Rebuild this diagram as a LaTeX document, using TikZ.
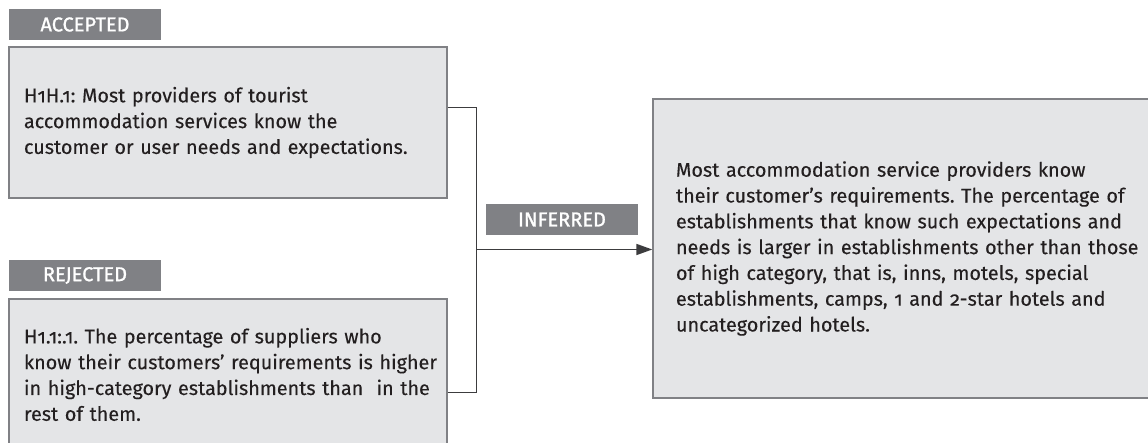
\documentclass[tikz,border=0pt]{standalone}
\usepackage{fontspec}
\setmainfont[Numbers=OldStyle, FakeBold=0.25]{Fira Sans}
\newfontfamily\tagfont[Numbers=OldStyle, FakeBold=1.2]{Fira Sans}
\usepackage{tikz}
\usetikzlibrary{
    arrows.meta,
    positioning,
    calc
}
\definecolor{boxFill}{RGB}{228,229,231}
\definecolor{boxLine}{RGB}{128,129,133}
\definecolor{tagFill}{RGB}{128,129,133}
\definecolor{connLine}{RGB}{60,60,62}
\definecolor{bodyText}{RGB}{35,31,32}
\tikzset{
  hypbox/.style  = {draw=boxLine, fill=boxFill, line width=1.4pt,
                    minimum width=438pt, minimum height=151pt,
                    text width=408pt, inner xsep=15pt, align=left,
                    text=bodyText,
                    font=\fontsize{19.8}{25.8}\selectfont\frenchspacing},
  concbox/.style = {hypbox, minimum width=517pt, minimum height=299pt,
                    text width=471pt, inner xsep=23pt},
  tagbox/.style  = {fill=tagFill, text=white, minimum width=152pt,
                    minimum height=31pt, inner sep=0pt,
                    font=\tagfont\fontsize{20}{22}\selectfont},
  conn/.style    = {connLine, line width=1.7pt},
  arr/.style     = {conn, -{Triangle[length=16pt, width=11pt]}}
}

\begin{document}
\begin{tikzpicture}[x=1pt, y=1pt]
\useasboundingbox (0,0) rectangle (1148,443);
\clip (0,0) rectangle (1148,443);

% hypotheses
\node[tagbox] (tagA) at (85,418.5) {ACCEPTED};
\node[hypbox] (hypA) at (228,320.5)
    {H1H.1: Most providers of tourist\\
     accommodation services know the\\
     customer or user needs and expectations.};
\node[tagbox] (tagR) at (85,167.5) {REJECTED};
\node[hypbox] (hypR) at (228,68.5)
    {H1.1:.1. The percentage of suppliers who\\
     \mbox{know their customers’ requirements is higher}\\
     in high-category establishments than\ \ in the\\
     rest of them.};

% conclusion
\node[concbox] (concl) at (911.5,194.5)
    {Most accommodation service providers know\\
     their customer’s requirements. The percentage of\\
     establishments that know such expectations and\\
     needs is larger in establishments other than those\\
     of high category, that is, inns, motels, special\\
     establishments, camps, 1 and 2-star hotels and\\
     uncategorized hotels.};
\node[tagbox] (tagI) at (562,223.5) {INFERRED};

% connectors
\coordinate (jn) at (476.5,193.5);
\draw[conn] ([yshift=15pt]hypA.east) -| (jn);
\draw[conn] ([yshift=-18pt]hypR.east) -| (jn);
\draw[arr] (jn) -- (jn -| concl.west);

\end{tikzpicture}
\end{document}
